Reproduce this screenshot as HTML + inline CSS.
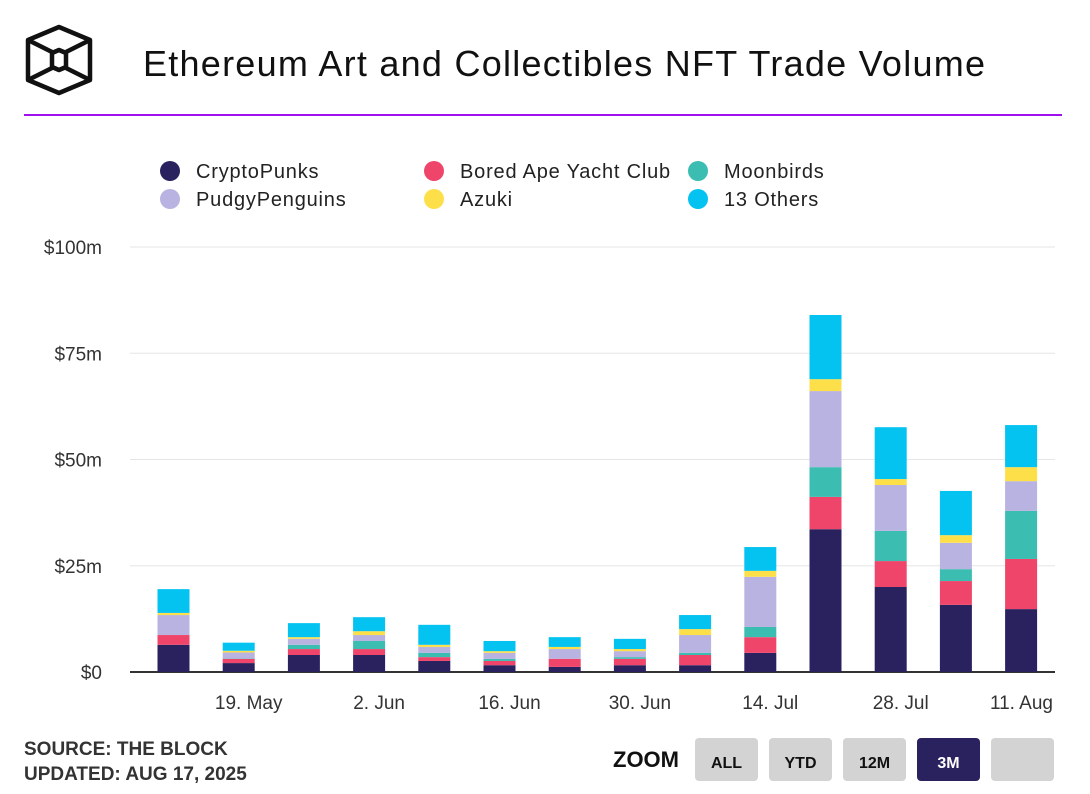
<!DOCTYPE html>
<html><head><meta charset="utf-8"><style>
body{margin:0;background:#fff;font-family:"Liberation Sans",sans-serif;}
#wrap{position:relative;width:1090px;height:794px;overflow:hidden;}
</style></head><body>
<div id="wrap">
<svg width="1090" height="794" id="svg">
  <g fill="none" stroke="#111" stroke-width="4.5" stroke-linejoin="round">
    <polygon points="59,27 90,40 90,80 59,93 28,80 28,40"/>
    <line x1="28" y1="40" x2="52" y2="52"/><line x1="90" y1="40" x2="66" y2="52"/>
    <line x1="28" y1="80" x2="52" y2="68"/><line x1="90" y1="80" x2="66" y2="68"/>
    <polygon points="59,50 66,53 66,67 59,70 52,67 52,53"/>
  </g>
  <text x="143" y="76" font-size="36" fill="#111" textLength="842" lengthAdjust="spacing">Ethereum Art and Collectibles NFT Trade Volume</text>
  <rect x="24" y="114" width="1038" height="2" fill="#a010ee"/>
  <g id="legend" font-size="20" fill="#222" letter-spacing="0.8"></g>
  <g id="grid"></g>
  <g id="bars"></g>
  <g id="xaxis" font-size="19" fill="#333"></g>
  <text x="24" y="755" font-size="19" font-weight="bold" fill="#333">SOURCE: THE BLOCK</text>
  <text x="24" y="780" font-size="19" font-weight="bold" fill="#333">UPDATED: AUG 17, 2025</text>
  <text x="613" y="767" font-size="22" font-weight="bold" fill="#111">ZOOM</text>
  <g><rect x="695" y="738" width="63" height="43" rx="4" fill="#d3d3d3"/><text x="726.5" y="768" font-size="16" font-weight="bold" text-anchor="middle" fill="#111">ALL</text></g>
  <g><rect x="769" y="738" width="63" height="43" rx="4" fill="#d3d3d3"/><text x="800.5" y="768" font-size="16" font-weight="bold" text-anchor="middle" fill="#111">YTD</text></g>
  <g><rect x="843" y="738" width="63" height="43" rx="4" fill="#d3d3d3"/><text x="874.5" y="768" font-size="16" font-weight="bold" text-anchor="middle" fill="#111">12M</text></g>
  <g><rect x="917" y="738" width="63" height="43" rx="4" fill="#2a225e"/><text x="948.5" y="768" font-size="16" font-weight="bold" text-anchor="middle" fill="#fff">3M</text></g>
  <g><rect x="991" y="738" width="63" height="43" rx="4" fill="#d3d3d3"/></g>
</svg>
</div>
<script>
const categories=["12 May","19 May","26 May","2 Jun","9 Jun","16 Jun","23 Jun","30 Jun","7 Jul","14 Jul","21 Jul","28 Jul","4 Aug","11 Aug"];
const seriesNames=["CryptoPunks","Bored Ape Yacht Club","Moonbirds","PudgyPenguins","Azuki","13 Others"];
const cryptoPunks=[6.4,2.1,4.0,4.0,2.6,1.6,1.2,1.6,1.6,4.5,33.6,20.0,15.8,14.8];
const boredApe=[2.3,1.0,1.4,1.4,0.9,1.0,1.9,1.5,2.4,3.7,7.6,6.1,5.6,11.8];
const moonbirds=[0,0.1,1.0,1.9,1.0,0.5,0,0.4,0.5,2.4,7.0,7.1,2.8,11.3];
const pudgy=[4.7,1.4,1.4,1.4,1.4,1.4,2.3,1.4,4.2,11.8,17.9,10.8,6.2,7.0];
const azuki=[0.5,0.4,0.4,0.9,0.5,0.4,0.5,0.5,1.4,1.4,2.8,1.4,1.8,3.3];
const others=[5.6,1.9,3.3,3.3,4.7,2.4,2.3,2.4,3.3,5.6,15.1,12.2,10.4,9.9];
const yTicks=[0,25,50,75,100];
const yTickLabels=["$0","$25m","$50m","$75m","$100m"];
const xLabels=["19. May","2. Jun","16. Jun","30. Jun","14. Jul","28. Jul","11. Aug"];
const xLabelIndex=[1,3,5,7,9,11,13];

const colors=["#2a225e","#f0456a","#3bbdb1","#b8b3e0","#fddf4a","#04c3f0"];
const series=[cryptoPunks,boredApe,moonbirds,pudgy,azuki,others];
const NS="http://www.w3.org/2000/svg";
function mk(t,a,p){const e=document.createElementNS(NS,t);for(const k in a)e.setAttribute(k,a[k]);p.appendChild(e);return e;}
const y0=672,pxPer=4.25,xL=130,xR=1055,bx0=173.5,step=65.2,bw=32;
const yS=v=>y0-v*pxPer;
const xS=i=>bx0+i*step;

const grid=document.getElementById('grid');
yTicks.forEach((t,i)=>{
  const l=mk('line',{x1:xL,x2:xR,y1:yS(t),y2:yS(t),stroke:t===0?'#333':'#e6e6e6','stroke-width':t===0?2:1},grid);
  
  
  const tx=mk('text',{x:102,y:yS(t)+7,'font-size':19,fill:'#333','text-anchor':'end'},grid);
  tx.textContent=yTickLabels[i];
  
  
});

const bars=document.getElementById('bars');
categories.forEach((c,i)=>{
  let acc=0;
  series.forEach((s,k)=>{
    const v=s[i];if(v<=0)return;
    const r=mk('rect',{x:xS(i)-bw/2,y:yS(acc+v),width:bw,height:v*pxPer,fill:colors[k]},bars);
    
    
    acc+=v;
  });
});

const xa=document.getElementById('xaxis');
xLabels.forEach((lab,j)=>{
  let x=xS(xLabelIndex[j])+10,anchor='middle';
  if(j===xLabels.length-1){x=1053;anchor='end';}
  const t=mk('text',{x:x,y:709,'text-anchor':anchor},xa);
  t.textContent=lab;
  
  
});

const lg=document.getElementById('legend');
const lpos=[[170,171],[170,199],[434,171],[434,199],[698,171],[698,199]];
const lorder=[0,3,1,4,2,5];
lorder.forEach((k,j)=>{
  const [cx,cy]=lpos[j];
  const g=mk('g',{},lg);
  
  
  mk('circle',{cx:cx,cy:cy,r:10,fill:colors[k]},g);
  const t=mk('text',{x:cx+26,y:cy+7},g);
  t.textContent=seriesNames[k];
});
</script>
</body></html>
